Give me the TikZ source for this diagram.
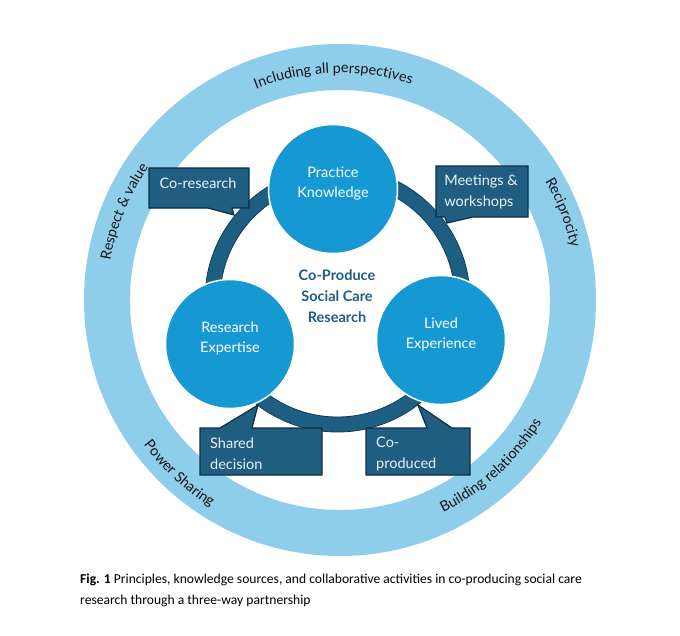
\documentclass[tikz,border=0pt]{standalone}
\usepackage{fontspec}
\setmainfont{Lato}
\newfontfamily\capfont{Carlito}
\usetikzlibrary{decorations.text}
\definecolor{ringblue}{RGB}{142,206,234}
\definecolor{circblue}{RGB}{22,153,210}
\definecolor{darkarc}{RGB}{30,94,130}
\definecolor{darkline}{RGB}{18,62,92}
\definecolor{boxfill}{RGB}{31,94,128}
\definecolor{boxline}{RGB}{12,46,70}
\definecolor{centertext}{RGB}{31,92,134}
\definecolor{boxtext}{RGB}{232,242,247}
\definecolor{ringtext}{RGB}{20,20,25}
\newcommand\mainsize{\fontsize{14.5}{20.7}\selectfont}
\newcommand\ringsize{\fontsize{14.4}{16}\selectfont}
\begin{document}
\begin{tikzpicture}[x=1pt,y=1pt,
  callout/.style={fill=boxfill,draw=boxline,line width=1.2pt,line join=miter},
  boxtxt/.style={text=boxtext,font=\mainsize,align=left,inner sep=0pt},
  circ/.style={circle,fill=circblue,draw=white,line width=1.5pt,minimum size=129pt,inner sep=0pt},
  circtxt/.style={text=white,font=\mainsize,align=center,inner sep=0pt},
  centertxt/.style={text=centertext,font=\mainsize\bfseries,align=center,inner sep=0pt},
  ringlabel/.style={decorate,decoration={text along path,text align=center,text color=ringtext}},
  captxt/.style={anchor=base west,inner sep=0pt,font=\capfont\fontsize{13.6}{22}\selectfont,text=black}]
\path[use as bounding box,fill=white] (0,0) rectangle (680,-635);
\coordinate (C) at (340,-300);
\coordinate (D) at (337.5,-299.5);
% outer ring
\fill[ringblue,even odd rule] (C) circle[radius=256] (C) circle[radius=210];
% dark ring
\draw[darkline,line width=0.8pt,fill=darkarc,even odd rule] (D) circle[radius=132.5] (D) circle[radius=117.5];
% callouts
\draw[callout] (149,-168) -- (249,-168) -- (249,-208) -- (232,-208) -- (234,-215) -- (208,-208) -- (149,-208) -- cycle;
\node[boxtxt] (cores) at (198,-183) {Co-research};
\draw[callout] (436,-166) -- (528,-166) -- (528,-217) -- (473,-217) -- (447,-223) -- (445,-217) -- (436,-217) -- cycle;
\node[boxtxt] (meet) at (481,-192) {Meetings \&\\workshops};
\draw[callout] (200,-428) -- (220,-428) -- (258,-405) -- (252,-428) -- (322,-428) -- (322,-475) -- (200,-475) -- cycle;
\node[boxtxt,anchor=west] (shared) at (210,-454) {Shared\\decision};
\draw[callout] (366,-428) -- (427,-428) -- (418,-405) -- (452,-428) -- (470,-428) -- (470,-475) -- (366,-475) -- cycle;
\node[boxtxt,anchor=west] (coprod) at (376,-454) {Co-\\produced};
% circles
\node[circ] (pk) at (333,-189) {};
\node[circ] (re) at (230,-344) {};
\node[circ] (le) at (441,-340) {};
\node[circtxt] (pkt) at ([yshift=5.5pt]pk.center) {Practice\\Knowledge};
\node[circtxt] (ret) at ([yshift=5.5pt]re.center) {Research\\Expertise};
\node[circtxt] (let) at ([yshift=5.5pt]le.center) {Lived\\Experience};
\node[centertxt] (cp) at (337,-296) {Co-Produce\\Social Care\\Research};
% ring labels
\path[ringlabel,decoration={text={|\ringsize|Including all perspectives}}]
  (C) ++(131.7:227) arc[start angle=131.7,end angle=51.7,radius=227];
\path[ringlabel,decoration={text={|\ringsize|Respect {\&} value}}]
  (C) ++(197.8:233) arc[start angle=197.8,end angle=117.8,radius=233];
\path[ringlabel,decoration={text={|\ringsize|Reciprocity}}]
  (C) ++(61.5:237) arc[start angle=61.5,end angle=-18.5,radius=237];
\path[ringlabel,decoration={text={|\ringsize|Power Sharing}}]
  (C) ++(187.2:244) arc[start angle=187.2,end angle=267.2,radius=244];
\path[ringlabel,decoration={text={|\ringsize|Building relationships}}]
  (C) ++(-87.7:236) arc[start angle=-87.7,end angle=-7.7,radius=236];
% caption
\node[captxt] (cap1) at (80,-583) {\textbf{Fig. 1} Principles, knowledge sources, and collaborative activities in co-producing social care};
\node[captxt] (cap2) at (80,-604) {research through a three-way partnership};
\end{tikzpicture}
\end{document}
